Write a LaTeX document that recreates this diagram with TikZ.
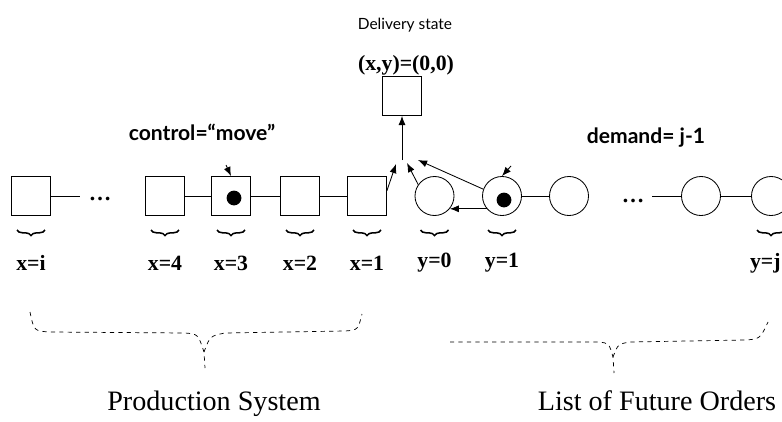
\documentclass[tikz,border=0pt]{standalone}
\usepackage{fontspec}
\setmainfont{Liberation Serif}
\newfontfamily\optfont{Lato}
\usetikzlibrary{arrows.meta, positioning, calc, decorations.pathreplacing}

\begin{document}
\begin{tikzpicture}[
    x=0.025cm, y=-0.025cm,
    line width=0.6pt,
    box/.style={rectangle, draw, minimum size=0.975cm, inner sep=0pt},
    order/.style={circle, draw, minimum size=0.975cm, inner sep=0pt},
    token/.style={circle, fill, minimum size=0.37cm, inner sep=0pt},
    arrow/.style={-{Latex[length=6.5pt, width=5pt]}},
    idx/.style={font=\fontsize{15.5}{17}\selectfont\bfseries, inner sep=0pt},
    ctl/.style={font=\optfont\fontsize{15}{17}\selectfont\bfseries, inner sep=0pt},
    dots/.style={font=\fontsize{16}{18}\selectfont\bfseries, inner sep=0pt},
    tinybrace/.style={decorate, decoration={brace, amplitude=4pt}, line width=1.1pt},
    bigbrace/.style={dashed, line width=0.5pt},
    title/.style={font=\fontsize{20}{24}\selectfont, inner sep=0pt, anchor=base}
]
\clip (0,0) rectangle (782,421);

% ============ PRODUCTION SYSTEM ============
\node[box] (xi) at (31,196) {};
\node[box] (x4) at (165,196) {};
\node[box] (x3) at (231,196) {};
\node[box] (x2) at (300,196) {};
\node[box] (x1) at (367,196) {};
\node[token] (tokx) at ($(x3)+(3,2)$) {};

\coordinate (xiend) at (80,196);
\node[dots] (dotsL) at (100,199) {\ldots};
\draw (xi) -- (xiend);
\draw (x4) -- (x3) -- (x2) -- (x1);

\node[ctl] (control) at (202,132) {control=“move”};
\coordinate (ctlx) at (226,165);
\draw[arrow] (ctlx) -- (x3.north);

% ============ DELIVERY ============
\node[box] (del) at (402,96) {};
\node[font=\optfont\fontsize{11}{13}\selectfont, inner sep=0pt] (dlab) at (405,25) {Delivery state};
\node[idx] (dcoord) at (406,65) {(x,y)=(0,0)};

\coordinate (hub) at (402,160);
\coordinate (inA) at (396,164);
\coordinate (inB) at (407,163);
\coordinate (inC) at (418,160);
\draw[arrow] (hub) -- (del);

% ============ FUTURE ORDERS ============
\node[order] (y0) at (434.5,196) {};
\node[order] (y1) at (502,196) {};
\node[order] (y2) at (569,196) {};
\node[order] (yj1) at (701,196) {};
\node[order] (yj) at (771,196) {};
\node[token] (toky) at ($(y1)+(2,4)$) {};

\node[dots] (dotsR) at (633,201) {\ldots};
\coordinate (yjst) at (652,196);
\draw (y1) -- (y2);
\draw (yjst) -- (yj1) -- (yj);

\node[ctl] (demand) at (646,138) {demand= j-1};
\coordinate (ctly) at (511,166);
\draw[arrow] (ctly) -- (y1.north);

% Transitions into delivery
\draw[arrow] (x1.15) -- (inA);
\draw[arrow] (y0.145) -- (inB);
\draw[arrow] (y1.160) -- (inC);
\draw[arrow] (y1.220) -- (y0.-40);

% Index braces and labels
\foreach \s/\t in {xi/x=i, x4/x=4, x3/x=3, x2/x=2, x1/x=1, y0/y=0, y1/y=1} {
    \draw[tinybrace] ($(\s)+(14,34)$) -- ($(\s)+(-14,34)$);
    \node[idx] (l\s) at ($(\s)+(0,67)$) {\t};
}
\draw[tinybrace] ($(yj)+(14,34)$) -- ($(yj)+(-14,34)$);
\node[idx, anchor=east] (lyj) at (781,263) {y=j};

% Group braces
\draw[bigbrace] (30,312) .. controls (34,331) .. (50,332) -- (185,333) .. controls (198,334) .. (204,352) -- (205,368);
\draw[bigbrace] (204,352) .. controls (210,336) .. (225,333) -- (345,331) .. controls (358,330) .. (362,314);
\draw[bigbrace] (450,342) -- (598,342) .. controls (609,343) .. (613,357) -- (614,373);
\draw[bigbrace] (613,357) .. controls (618,344) .. (630,342) -- (745,340) .. controls (760,339) .. (768,322);

\node[title] (prod) at (214,410) {Production System};
\node[title] (orders) at (657,410) {List of Future Orders};
\end{tikzpicture}
\end{document}
